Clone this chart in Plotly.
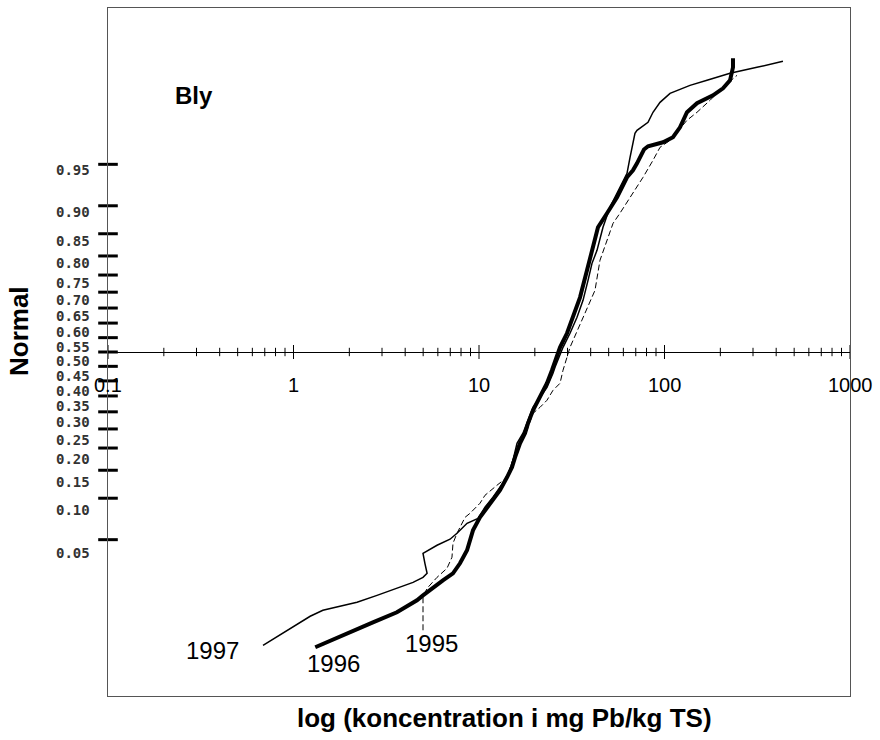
import math
from statistics import NormalDist
import plotly.graph_objects as go

# ---- data (concentration mg Pb/kg TS, normal score) ----
conc_1997 = [0.685, 0.957, 1.23, 1.44, 1.78, 2.20, 2.82, 3.61, 4.41, 4.99, 5.25, 5.11, 4.99,
             5.94, 6.98, 7.61, 8.62, 9.88, 10.77, 11.90, 12.98, 14.16, 15.25, 16.03, 17.26,
             18.37, 19.55, 21.32, 23.25, 25.05, 25.69, 28.37, 30.95, 33.76, 36.37, 38.70,
             40.66, 43.27, 46.6, 50.8, 57.5, 62.8, 65.2, 69.3, 71.1, 81.5, 86.7, 94.6,
             107.1, 137.2, 169.5, 225.5, 315, 435]
z_1997 = [-2.571, -2.422, -2.316, -2.264, -2.229, -2.194, -2.133, -2.071, -2.019, -1.975,
          -1.940, -1.852, -1.764, -1.694, -1.641, -1.589, -1.501, -1.458, -1.361, -1.273,
          -1.186, -1.098, -0.949, -0.800, -0.712, -0.599, -0.485, -0.397, -0.309, -0.187,
          -0.134, 0.041, 0.164, 0.304, 0.453, 0.628, 0.777, 0.891, 1.093, 1.268, 1.444,
          1.566, 1.706, 1.917, 1.943, 2.013, 2.101, 2.188, 2.267, 2.337, 2.381, 2.443,
          2.495, 2.548]

conc_1996 = [1.31, 1.78, 2.68, 3.61, 4.63, 4.99, 5.65, 6.39, 7.24, 7.90, 8.62, 9.28, 10.12,
             11.47, 12.98, 14.16, 15.06, 15.64, 16.64, 17.70, 18.37, 19.55, 21.32, 23.25,
             24.74, 25.05, 27.34, 29.81, 32.12, 35.04, 38.22, 41.17, 43.8, 49.0, 55.5, 62.8,
             67.6, 71.1, 73.8, 77.5, 81.5, 98.2, 111.1, 121.2, 132.2, 149.7, 182.6,
             206.8, 225.5, 231, 234, 234]
z_1996 = [-2.588, -2.492, -2.369, -2.281, -2.176, -2.133, -2.062, -2.001, -1.940, -1.852,
          -1.738, -1.563, -1.449, -1.326, -1.212, -1.098, -1.011, -0.923, -0.800, -0.712,
          -0.625, -0.511, -0.397, -0.274, -0.160, -0.134, 0.041, 0.164, 0.304, 0.479,
          0.716, 0.917, 1.093, 1.216, 1.356, 1.531, 1.592, 1.654, 1.706, 1.775,
          1.803, 1.838, 1.882, 1.969, 2.101, 2.180, 2.250, 2.311, 2.381, 2.443, 2.495,
          2.574]

conc_1995 = [4.99, 4.99, 5.25, 5.94, 6.72, 7.15, 7.24, 7.61, 8.41, 8.94, 10.12, 10.77, 12.50,
             14.16, 16.03, 18.15, 19.55, 21.32, 23.25, 25.05, 27.34, 28.37, 30.95, 36.37,
             42.20, 44.9, 49.0, 52.8, 57.5, 67.6, 76.6, 86.7, 94.6, 107.1, 132.2, 149.7,
             176, 206.8, 246]
z_1995 = [-2.439, -2.150, -2.071, -1.975, -1.896, -1.799, -1.677, -1.589, -1.449, -1.414,
          -1.326, -1.256, -1.168, -1.098, -0.835, -0.686, -0.537, -0.485, -0.423, -0.336,
          -0.274, -0.160, 0.041, 0.304, 0.541, 0.804, 0.979, 1.128, 1.216, 1.391, 1.531,
          1.680, 1.794, 1.855, 2.031, 2.101, 2.206, 2.320, 2.425]

prob_ticks = [0.05, 0.10, 0.15, 0.20, 0.25, 0.30, 0.35, 0.40, 0.45, 0.50,
              0.55, 0.60, 0.65, 0.70, 0.75, 0.80, 0.85, 0.90, 0.95]
x_decades = [0.1, 1, 10, 100, 1000]
x_labels = ["0.1", "1", "10", "100", "1000"]
minor_mult = [2, 3, 4, 5, 6, 7, 8, 9]

series_names = ["1997", "1996", "1995"]

# ---------------------------------------------------------------------------
nd = NormalDist()
z_ticks = [nd.inv_cdf(p) for p in prob_ticks]
Z_LIM = 3.015

W, H = 880, 740
ML, MR, MT, MB = 108, 30, 8, 44
PW, PH = W - ML - MR, H - MT - MB


def px_x(px):
    return (px - ML) / PW


def px_y(py):
    return 1 - (py - MT) / PH


fig = go.Figure()

styles = {
    "1997": dict(width=1.5, dash="solid"),
    "1996": dict(width=4, dash="solid"),
    "1995": dict(width=1, dash="6px,3px"),
}
data = {"1997": (conc_1997, z_1997), "1996": (conc_1996, z_1996), "1995": (conc_1995, z_1995)}

# x-axis (at z = 0) tick marks
minor_x = [d * m for d in x_decades[:-1] for m in minor_mult]
fig.add_trace(go.Scatter(x=minor_x, y=[0] * len(minor_x), mode="markers",
                         marker=dict(symbol="line-ns", size=6, line=dict(width=1, color="black")),
                         cliponaxis=False, showlegend=False, hoverinfo="skip"))
fig.add_trace(go.Scatter(x=x_decades, y=[0] * len(x_decades), mode="markers",
                         marker=dict(symbol="line-ns", size=10, line=dict(width=1, color="black")),
                         cliponaxis=False, showlegend=False, hoverinfo="skip"))

for name in series_names:
    xs, zs = data[name]
    st = styles[name]
    fig.add_trace(go.Scatter(x=xs, y=zs, mode="lines", name=name,
                             line=dict(color="black", width=st["width"], dash=st["dash"]),
                             showlegend=False, hoverinfo="skip"))

# y probability tick marks on the left edge
fig.add_trace(go.Scatter(x=[x_decades[0]] * len(z_ticks), y=z_ticks, mode="markers",
                         marker=dict(symbol="line-ew", size=14, line=dict(width=3, color="black")),
                         cliponaxis=False, showlegend=False, hoverinfo="skip"))

annotations = []
# probability labels
for p, z in zip(prob_ticks, z_ticks):
    annotations.append(dict(x=math.log10(x_decades[0]), y=z * 1.02, xref="x", yref="y",
                            text=f"<b>{p:.2f}</b>", showarrow=False, xanchor="right", yanchor="middle",
                            xshift=-16, yshift=-9.3,
                            font=dict(family="DejaVu Sans Mono", size=14, color="#333")))
# x tick labels under the z=0 axis
for v, lab in zip(x_decades, x_labels):
    annotations.append(dict(x=math.log10(v), y=0, xref="x", yref="y", text=lab,
                            showarrow=False, xanchor="center", yanchor="middle", yshift=-33,
                            font=dict(family="Liberation Sans, Arial", size=20, color="black")))
# year labels near line ends
year_offsets = {"1997": dict(xanchor="right", xshift=-22, yshift=-5),
                "1996": dict(xanchor="left", xshift=-10, yshift=-16),
                "1995": dict(xanchor="center", xshift=8, yshift=-13)}
for name in series_names:
    xs, zs = data[name]
    o = year_offsets[name]
    annotations.append(dict(x=math.log10(xs[0]), y=zs[0], xref="x", yref="y", text=name,
                            showarrow=False, xanchor=o["xanchor"], yanchor="middle",
                            xshift=o["xshift"], yshift=o["yshift"],
                            font=dict(family="Liberation Sans, Arial", size=24, color="black")))
# titles
annotations.append(dict(x=px_x(194), y=px_y(95), xref="paper", yref="paper",
                        text="<b>Bly</b>", showarrow=False, xanchor="center", yanchor="middle",
                        font=dict(family="Liberation Sans, Arial", size=24, color="black")))
annotations.append(dict(x=px_x(505), y=px_y(718), xref="paper", yref="paper",
                        text="<b>log (koncentration i mg Pb/kg TS)</b>", showarrow=False,
                        xanchor="center", yanchor="middle",
                        font=dict(family="Liberation Sans, Arial", size=26, color="black")))
annotations.append(dict(x=px_x(19), y=px_y(331), xref="paper", yref="paper",
                        text="<b>Normal</b>", showarrow=False, textangle=-90,
                        xanchor="center", yanchor="middle",
                        font=dict(family="Liberation Sans, Arial", size=26, color="black")))

fig.add_shape(type="line", xref="x", yref="paper", x0=math.log10(1), x1=math.log10(1), y0=0, y1=1,
              line=dict(color="black", width=1))

fig.update_layout(
    width=W, height=H,
    margin=dict(l=ML, r=MR, t=MT, b=MB),
    paper_bgcolor="white", plot_bgcolor="white",
    showlegend=False, hovermode=False,
    annotations=annotations,
    xaxis=dict(type="log", range=[math.log10(x_decades[0]), math.log10(x_decades[-1])],
               showgrid=False, showticklabels=False, ticks="", zeroline=False,
               showline=True, mirror=True, linecolor="#555", linewidth=1),
    yaxis=dict(range=[-Z_LIM, Z_LIM], showgrid=False, showticklabels=False, ticks="",
               zeroline=True, zerolinecolor="black", zerolinewidth=1,
               showline=True, mirror=True, linecolor="#555", linewidth=1),
)

fig.write_html("out.html")
